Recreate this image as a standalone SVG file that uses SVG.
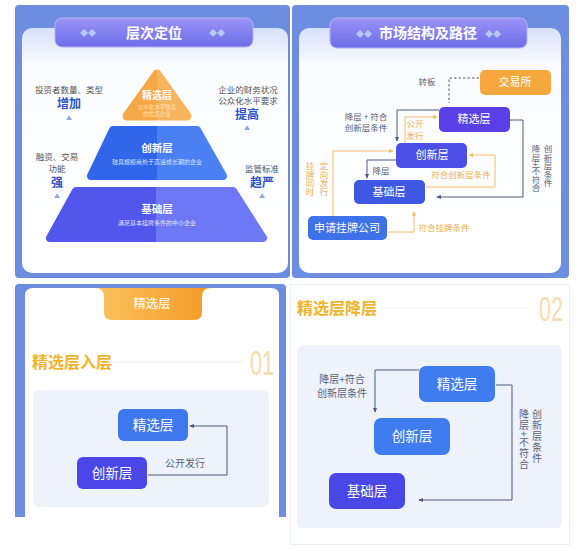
<svg xmlns="http://www.w3.org/2000/svg" width="585" height="551" viewBox="0 0 585 551">
<defs>
<style>
text{font-family:"Noto Sans CJK SC","Noto Sans",sans-serif}
.w{fill:#fff}
.g{fill:#555;font-size:8.5px}
.em{fill:#2c55c8;font-size:12px;font-weight:bold}
.up{fill:#8fa8e0;font-size:6px}
.dk{fill:none;stroke:#4b5b80;stroke-width:1}
.or{fill:none;stroke:#f2bd68;stroke-width:1}
.ot{fill:#eeb050;font-size:8.5px}
.dt{fill:#5a6478;font-size:8.5px}
.lt{fill:#5a6478;font-size:10px}
.bx{font-size:11px;fill:#fff}
.bb{font-size:13.5px;fill:#fff}
.ttl{font-size:14px;fill:#fff;font-family:"Liberation Serif","Noto Sans CJK SC",serif;font-weight:bold}
.dia{fill:#b7c8ff;font-size:8px}
.num{font-size:35px;fill:#f5dcae;font-family:"Liberation Sans",sans-serif}
</style>
<linearGradient id="ban" x1="0" y1="0" x2="0" y2="1"><stop offset="0" stop-color="#9a92f6"/><stop offset="1" stop-color="#6c6ee8"/></linearGradient>
<linearGradient id="card" x1="0" y1="0" x2="0" y2="1"><stop offset="0" stop-color="#d6e0fa"/><stop offset="0.15" stop-color="#fbfcff"/><stop offset="1" stop-color="#ffffff"/></linearGradient>
<linearGradient id="tri" x1="0" y1="0" x2="1" y2="0"><stop offset="0.5" stop-color="#f6a846"/><stop offset="0.5" stop-color="#f8b45c"/></linearGradient>
<linearGradient id="mid" x1="0" y1="0" x2="1" y2="0"><stop offset="0.5" stop-color="#3266ea"/><stop offset="0.5" stop-color="#4a80f2"/></linearGradient>
<linearGradient id="bot" x1="0" y1="0" x2="1" y2="0"><stop offset="0.5" stop-color="#5256ec"/><stop offset="0.5" stop-color="#6e78f4"/></linearGradient>
<linearGradient id="tab" x1="0" y1="0" x2="1" y2="0"><stop offset="0" stop-color="#fac35c"/><stop offset="1" stop-color="#f59a28"/></linearGradient>
<marker id="ad" viewBox="0 0 6 6" refX="5" refY="3" markerWidth="5" markerHeight="5" orient="auto"><path d="M0,0.5 L6,3 L0,5.5 Z" fill="#4b5b80"/></marker>
<marker id="ao" viewBox="0 0 6 6" refX="5" refY="3" markerWidth="5" markerHeight="5" orient="auto"><path d="M0,0.5 L6,3 L0,5.5 Z" fill="#f2bd68"/></marker>
</defs>
<rect width="585" height="551" fill="#fff"/>

<!-- Panel 1 -->
<g id="panel1">
<rect x="15" y="5" width="275" height="273" rx="4" fill="#6d8de0"/>
<rect x="22" y="28" width="266" height="245" rx="10" fill="url(#card)"/>
<rect x="55" y="18" width="198" height="29" rx="7" fill="url(#ban)" stroke="#b4b0fa" stroke-width="1"/>
<text class="dia" x="88" y="36" text-anchor="middle">◆◆</text>
<text class="dia" x="217" y="36" text-anchor="middle">◆◆</text>
<text class="ttl" x="154" y="38" text-anchor="middle" font-size="15">层次定位</text>
</g>
<g id="top-tier">
<path d="M157 74 L187 116 L127 116 Z" fill="url(#tri)" stroke="url(#tri)" stroke-width="9" stroke-linejoin="round"/>
<text class="w" x="157" y="99" text-anchor="middle" font-size="10" font-weight="bold">精选层</text>
<text x="157" y="109" text-anchor="middle" font-size="5.5" fill="#fde3c0">公众化水平较高</text>
<text x="157" y="116" text-anchor="middle" font-size="5.5" fill="#fde3c0">的优质企业</text>
</g>
<g id="mid-tier">
<path d="M113 130 L197 130 L223 176 L91 176 Z" fill="url(#mid)" stroke="url(#mid)" stroke-width="8" stroke-linejoin="round"/>
<text class="w" x="157" y="152" text-anchor="middle" font-size="10.5" font-weight="bold">创新层</text>
<text x="157" y="164" text-anchor="middle" font-size="6" fill="#dbe5ff">较具规模尚处于高速成长期的企业</text>
</g>
<g id="base-tier">
<path d="M76 191 L233 191 L263 238 L50 238 Z" fill="url(#bot)" stroke="url(#bot)" stroke-width="8" stroke-linejoin="round"/>
<text class="w" x="157" y="213" text-anchor="middle" font-size="10.5" font-weight="bold">基础层</text>
<text x="157" y="225" text-anchor="middle" font-size="6" fill="#e2e5ff">满足基本挂牌条件的中小企业</text>
</g>
<g id="side-labels">
<text class="g" x="69" y="93" text-anchor="middle">投资者数量、类型</text>
<text class="em" x="69" y="108" text-anchor="middle">增加</text>
<text class="up" x="69" y="120" text-anchor="middle">▲</text>
<text class="g" x="248" y="93" text-anchor="middle">企业的财务状况</text>
<text class="g" x="248" y="104" text-anchor="middle">公众化水平要求</text>
<text class="em" x="247" y="119" text-anchor="middle">提高</text>
<text class="up" x="247" y="130" text-anchor="middle">▲</text>
<text class="g" x="57" y="160" text-anchor="middle">融资、交易</text>
<text class="g" x="57" y="172" text-anchor="middle">功能</text>
<text class="em" x="57" y="187" text-anchor="middle">强</text>
<text class="up" x="57" y="198" text-anchor="middle">▲</text>
<text class="g" x="262" y="172" text-anchor="middle">监管标准</text>
<text class="em" x="262" y="187" text-anchor="middle">趋严</text>
<text class="up" x="262" y="198" text-anchor="middle">▲</text>
</g>

<!-- Panel 2 -->
<g id="panel2">
<rect x="292" y="5" width="277" height="273" rx="4" fill="#6d8de0"/>
<rect x="299" y="28" width="262" height="245" rx="10" fill="url(#card)"/>
<rect x="330" y="18" width="197" height="30" rx="7" fill="url(#ban)" stroke="#b4b0fa" stroke-width="1"/>
<text class="dia" x="364" y="37" text-anchor="middle" font-size="6.5">◆◆</text>
<text class="dia" x="493" y="37" text-anchor="middle" font-size="6.5">◆◆</text>
<text class="ttl" x="428" y="38" text-anchor="middle">市场结构及路径</text>
</g>
<g id="p2-connectors">
<path class="dk" d="M479 78 H449 V103" stroke-dasharray="2.5,2"/>
<path class="dk" d="M510 120 H523 V197 H437" marker-end="url(#ad)"/>
<path class="dk" d="M439 110 H397 V141" marker-end="url(#ad)"/>
<path class="or" d="M405 143 V117 H437" marker-end="url(#ao)"/>
<path class="or" d="M333 216 V151 H393" marker-end="url(#ao)"/>
<path class="dk" d="M396 160 H367 V178" marker-end="url(#ad)"/>
<path class="or" d="M426 187 H495 V155 H469" marker-end="url(#ao)"/>
<path class="or" d="M388 232 H414 V212" marker-end="url(#ao)"/>
</g>
<g id="p2-labels">
<text class="dt" x="427" y="85" text-anchor="middle">转板</text>
<text class="dt" x="366" y="120" text-anchor="middle">降层 + 符合</text>
<text class="dt" x="366" y="131" text-anchor="middle">创新层条件</text>
<text class="ot" x="415" y="127" text-anchor="middle">公开</text>
<text class="ot" x="415" y="139" text-anchor="middle">发行</text>
<text class="dt" x="381" y="174" text-anchor="middle">降层</text>
<text class="ot" x="461" y="178" text-anchor="middle">符合创新层条件</text>
<text class="ot" x="444" y="231" text-anchor="middle">符合挂牌条件</text>
<text class="ot" x="310" y="162" style="writing-mode:vertical-rl" font-size="8.5">挂牌同时</text>
<text class="ot" x="324" y="162" style="writing-mode:vertical-rl" font-size="8.5">定向发行</text>
<text class="dt" x="536" y="145" style="writing-mode:vertical-rl" font-size="8.5">降层+不符合</text>
<text class="dt" x="548" y="145" style="writing-mode:vertical-rl" font-size="8.5">创新层条件</text>
</g>
<g id="p2-exchange"><rect x="480" y="70" width="71" height="25" rx="5" fill="#f6a83e"/><text class="bx" x="515" y="86" text-anchor="middle">交易所</text></g>
<g id="p2-select"><rect x="439" y="107" width="71" height="25" rx="5" fill="#5b3fe6"/><text class="bx" x="474" y="123" text-anchor="middle">精选层</text></g>
<g id="p2-innov"><rect x="396" y="143" width="71" height="25" rx="5" fill="#4b4fe8"/><text class="bx" x="432" y="159" text-anchor="middle">创新层</text></g>
<g id="p2-base"><rect x="354" y="180" width="71" height="24" rx="5" fill="#3e58e4"/><text class="bx" x="389" y="196" text-anchor="middle">基础层</text></g>
<g id="p2-apply"><rect x="308" y="216" width="79" height="24" rx="5" fill="#3e72ea"/><text class="bx" x="347" y="232" text-anchor="middle" font-size="12">申请挂牌公司</text></g>

<!-- Panel 3 -->
<g id="panel3">
<path d="M15 288 Q15 284 19 284 H282 Q286 284 286 288 V517 H15 Z" fill="#6d8de0"/>
<path d="M25 296 Q25 288 33 288 H271 Q279 288 279 296 V517 H25 Z" fill="#fff"/>
<path d="M95 288 Q104 288 104 297 V312 Q104 320 112 320 H194 Q202 320 202 312 V297 Q202 288 211 288 Z" fill="url(#tab)"/>
<text x="152" y="308" text-anchor="middle" font-size="12.5" fill="#fff" font-family="'Liberation Serif','Noto Sans CJK SC',serif">精选层</text>
<text x="32" y="368" font-size="16" font-weight="bold" fill="#f0b42c">精选层入层</text>
<line x1="108" y1="362" x2="243" y2="362" stroke="#eceef3" stroke-width="1"/>
<text class="num" transform="translate(262 375) scale(0.62 1)" text-anchor="middle">01</text>
<rect x="33" y="390" width="236" height="117" rx="6" fill="#edf2fb"/>
</g>
<g id="p3-connectors">
<path class="dk" d="M148 475 H227 V426 H190" marker-end="url(#ad)"/>
<text class="lt" x="185" y="467" text-anchor="middle">公开发行</text>
</g>
<g id="p3-select"><rect x="118" y="409" width="70" height="32" rx="6" fill="#3e78ee"/><text class="bb" x="153" y="430" text-anchor="middle">精选层</text></g>
<g id="p3-innov"><rect x="77" y="457" width="70" height="32" rx="6" fill="#4a46e8"/><text class="bb" x="112" y="478" text-anchor="middle">创新层</text></g>

<!-- Panel 4 -->
<g id="panel4">
<rect x="290.5" y="284.5" width="279" height="260" fill="#fff" stroke="#e8edf6" stroke-width="1"/>
<text x="297" y="314" font-size="16" font-weight="bold" fill="#f0b42c">精选层降层</text>
<line x1="380" y1="308" x2="532" y2="308" stroke="#e6e9f0" stroke-width="1" stroke-dasharray="1.5,1.5"/>
<text class="num" transform="translate(551 321) scale(0.62 1)" text-anchor="middle" font-size="37">02</text>
<rect x="297" y="345" width="265" height="183" rx="6" fill="#eef2fa"/>
</g>
<g id="p4-connectors">
<path class="dk" d="M419 370 H375 V412" marker-end="url(#ad)"/>
<path class="dk" d="M496 385 H512 V500 H419" marker-end="url(#ad)"/>
<text class="lt" x="342" y="383" text-anchor="middle">降层+符合</text>
<text class="lt" x="342" y="397" text-anchor="middle">创新层条件</text>
<text class="lt" x="524" y="409" style="writing-mode:vertical-rl;letter-spacing:1px" font-size="11.5">降层+不符合</text>
<text class="lt" x="537" y="409" style="writing-mode:vertical-rl;letter-spacing:1px" font-size="11.5">创新层条件</text>
</g>
<g id="p4-select"><rect x="419" y="366" width="76" height="36" rx="7" fill="#3f7cf0"/><text class="bb" x="457" y="389" text-anchor="middle">精选层</text></g>
<g id="p4-innov"><rect x="374" y="418" width="76" height="37" rx="7" fill="#3f7cf0"/><text class="bb" x="412" y="441" text-anchor="middle">创新层</text></g>
<g id="p4-base"><rect x="329" y="473" width="76" height="36" rx="7" fill="#4a47e8"/><text class="bb" x="367" y="496" text-anchor="middle">基础层</text></g>
</svg>
